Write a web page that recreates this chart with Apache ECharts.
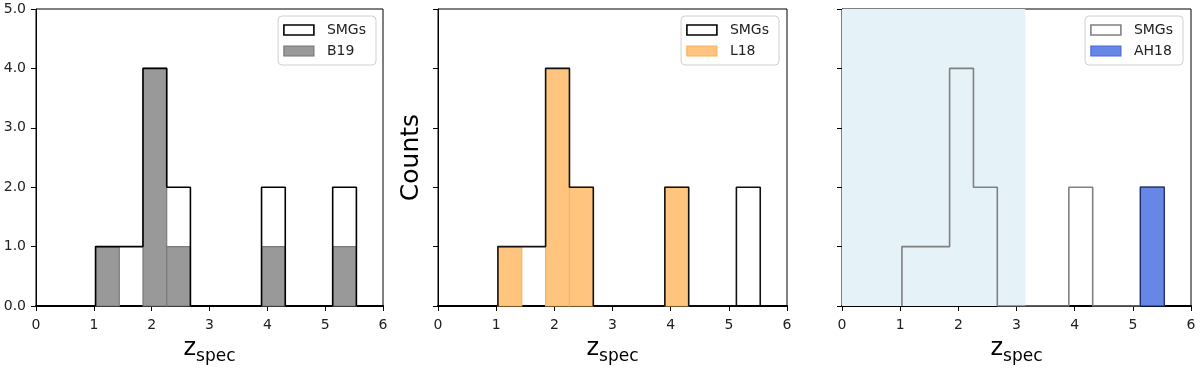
<!DOCTYPE html>
<html>
<head>
<meta charset="utf-8">
<script src="https://cdn.jsdelivr.net/npm/echarts@6/dist/echarts.min.js"></script>
<style>
html,body{margin:0;padding:0;background:#fff}
#chart{width:1200px;height:370px}
</style>
</head>
<body>
<div id="chart"></div>
<script>
// histogram bins (z_spec edges) and counts
var binEdges   = [1.03, 1.44, 1.85, 2.26, 2.67, 3.08, 3.49, 3.90, 4.31, 4.72, 5.13, 5.54];
var smgCounts  = [1, 1, 4, 2, 0, 0, 0, 2, 0, 0, 2];
var b19Counts  = [1, 0, 4, 1, 0, 0, 0, 1, 0, 0, 1];
var l18Counts  = [1, 0, 4, 2, 0, 0, 0, 2, 0, 0, 0];
var ah18Counts = [0, 0, 0, 0, 0, 0, 0, 0, 0, 0, 2];
// shaded z range in the right panel
var shadeRange = [0, 3.15];
var xRange = [0, 6];
var yRange = [0, 5];

var FONT = 'DejaVu Sans';

// outline of a step histogram
function stepPoints(counts){
	var pts = [[binEdges[0], 0]];
	for (var i = 0; i < counts.length; i++) {
		pts.push([binEdges[i], counts[i]]);
		pts.push([binEdges[i + 1], counts[i]]);
	}
	pts.push([binEdges[binEdges.length - 1], 0]);
	return pts;
}
// filled bars: [left, right, count]
function barData(counts){
	var d = [];
	for (var i = 0; i < counts.length; i++) {
		d.push([binEdges[i], binEdges[i + 1], counts[i]]);
	}
	return d;
}
function barSeries(name, idx, counts, fill, edge){
	return {
		name: name,
		type: 'custom',
		xAxisIndex: idx, yAxisIndex: idx,
		z: 3,
		itemStyle: {color: fill},
		renderItem: function(params, api){
			var c = api.value(2);
			if (!c) return null;
			var p0 = api.coord([api.value(0), c]);
			var p1 = api.coord([api.value(1), 0]);
			return {
				type: 'rect',
				shape: {x: p0[0], y: p0[1], width: p1[0] - p0[0], height: p1[1] - p0[1]},
				style: {fill: fill, stroke: edge, lineWidth: 1.2}
			};
		},
		encode: {x: [0, 1], y: 2},
		data: barData(counts)
	};
}
function outlineSeries(idx, color, z){
	return {
		name: 'SMGs',
		type: 'line',
		xAxisIndex: idx, yAxisIndex: idx,
		showSymbol: false,
		z: z,
		lineStyle: {color: color, width: 1.6},
		itemStyle: {color: color},
		data: stepPoints(smgCounts)
	};
}

var grids = [
	{left: 36, top: 9, width: 347, height: 299},
	{left: 438, top: 9, width: 349, height: 299},
	{left: 842, top: 9, width: 349, height: 299}
];
var xAxes = [], yAxes = [];
for (var g = 0; g < 3; g++) {
	grids[g].show = true;
	grids[g].borderColor = '#000';
	grids[g].borderWidth = 1;
	grids[g].backgroundColor = 'transparent';
	xAxes.push({
		type: 'value', gridIndex: g, min: xRange[0], max: xRange[1], interval: 1,
		name: '{z|z}{s|spec}', nameLocation: 'middle', nameGap: 31,
		nameTextStyle: {rich: {
			z: {fontSize: 24, fontFamily: FONT, color: '#000', verticalAlign: 'bottom', padding: [0, 0, 4, 0]},
			s: {fontSize: 17, fontFamily: FONT, color: '#000', verticalAlign: 'bottom'}
		}},
		axisLine: {show: true, onZero: false, lineStyle: {color: '#000', width: 2}},
		axisTick: {show: true, inside: false, length: 5, lineStyle: {color: '#000'}},
		axisLabel: {fontSize: 14, fontFamily: FONT, color: '#222', margin: 12},
		splitLine: {show: false}
	});
	yAxes.push({
		type: 'value', gridIndex: g, min: yRange[0], max: yRange[1], interval: 1,
		name: g === 1 ? 'Counts' : '', nameLocation: 'middle', nameGap: 14,
		nameTextStyle: {fontSize: 25, fontFamily: FONT, color: '#000'},
		axisLine: {show: true, lineStyle: {color: '#000', width: 1}},
		axisTick: {show: true, inside: false, length: 5, lineStyle: {color: '#000'}},
		axisLabel: {show: g === 0, fontSize: 14, fontFamily: FONT, color: '#222', margin: 10,
			formatter: function(v){ return v.toFixed(1); }},
		splitLine: {show: false}
	});
}

function legendBox(right, items){
	return {
		orient: 'vertical', right: right, top: 16,
		itemWidth: 30, itemHeight: 10, itemGap: 7,
		padding: [7, 10, 7, 5],
		backgroundColor: 'rgba(255,255,255,0.8)',
		borderColor: '#d0d0d0', borderWidth: 1, borderRadius: 4,
		textStyle: {fontSize: 14, fontFamily: FONT, color: '#222', padding: [0, 0, 0, 8]},
		selectedMode: false,
		data: items
	};
}

var option = {
	animation: false,
	backgroundColor: '#fff',
	grid: grids,
	xAxis: xAxes,
	yAxis: yAxes,
	legend: [
		legendBox(824, [
			{name: 'SMGs', icon: 'rect', itemStyle: {color: '#fff', borderColor: '#000', borderWidth: 1.6}},
			{name: 'B19', icon: 'rect', itemStyle: {color: '#999999', borderColor: '#777', borderWidth: 1.2}}
		]),
		legendBox(421, [
			{name: 'SMGs', icon: 'rect', itemStyle: {color: '#fff', borderColor: '#000', borderWidth: 1.6}},
			{name: 'L18', icon: 'rect', itemStyle: {color: '#ffc57f', borderColor: '#fbb15a', borderWidth: 1.2}}
		]),
		legendBox(17, [
			{name: 'SMGs', icon: 'rect', itemStyle: {color: '#fff', borderColor: '#808080', borderWidth: 1.6}},
			{name: 'AH18', icon: 'rect', itemStyle: {color: '#6787e7', borderColor: '#4a6ad8', borderWidth: 1.2}}
		])
	],
	series: [
		barSeries('B19', 0, b19Counts, '#999999', '#7a7a7a'),
		outlineSeries(0, '#000', 4),
		barSeries('L18', 1, l18Counts, '#ffc57f', '#fbb15a'),
		outlineSeries(1, '#111', 4),
		outlineSeries(2, '#808080', 2),
		barSeries('AH18', 2, ah18Counts, '#6787e7', '#1d2b66'),
		{
			name: 'shade',
			type: 'line',
			xAxisIndex: 2, yAxisIndex: 2,
			data: [],
			z: 1,
			markArea: {
				silent: true,
				itemStyle: {color: '#e5f2f7'},
				data: [[{xAxis: shadeRange[0]}, {xAxis: shadeRange[1]}]]
			}
		}
	]
};

var myChart = echarts.init(document.getElementById('chart'));
myChart.setOption(option);
</script>
</body>
</html>
